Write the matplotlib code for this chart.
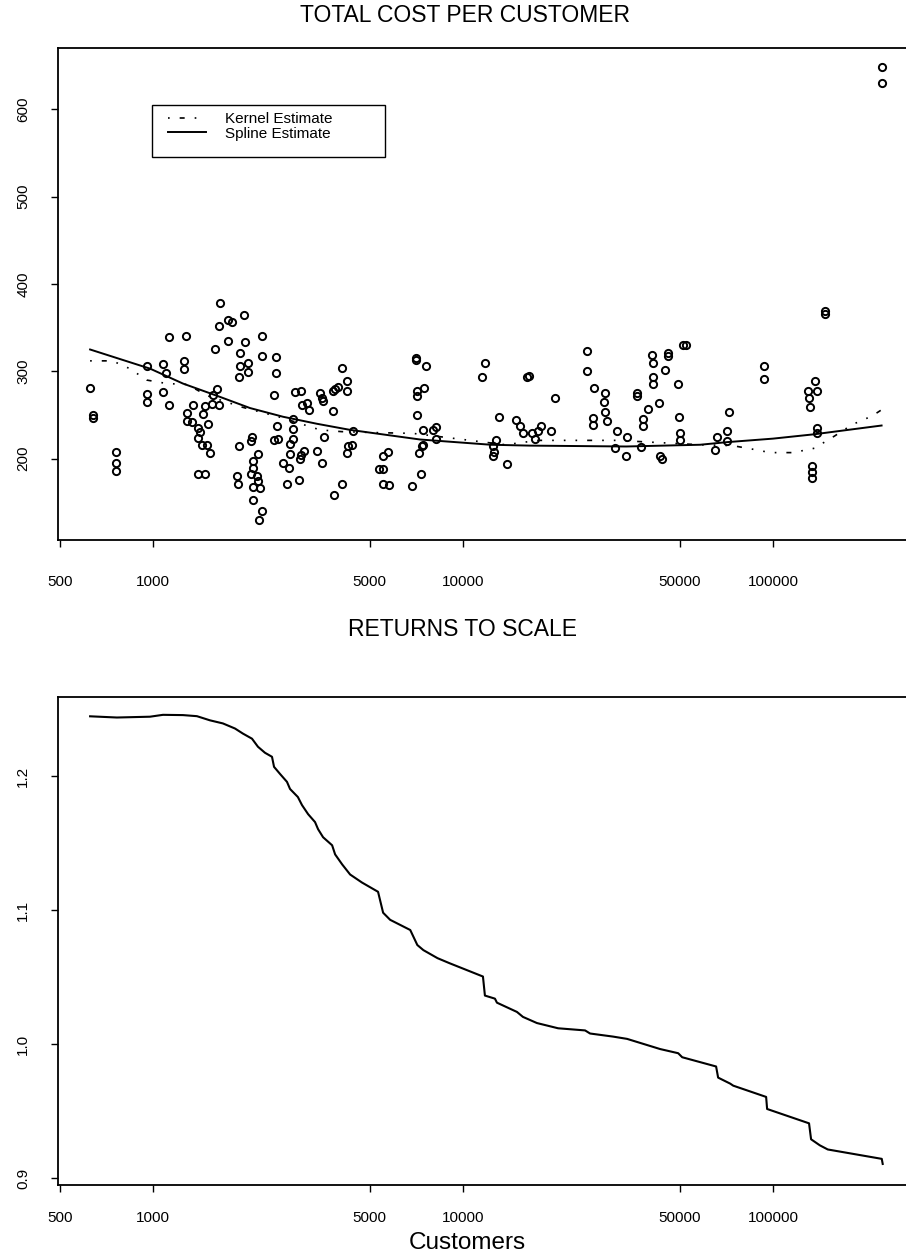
import matplotlib
matplotlib.use("Agg")
import matplotlib.pyplot as plt
from matplotlib.patches import Rectangle

plt.rcParams['font.family'] = ['Liberation Sans', 'DejaVu Sans']

# observed firms: number of customers and total cost per customer
customers = [627, 640, 640, 760, 760, 760, 955, 955, 955, 1080, 1100, 1080, 1130, 1130,
             1280, 1260, 1260, 1350, 1290, 1290, 1340, 1400, 1418, 1450, 1500, 1400, 1440,
             1490, 1527, 1400, 1470, 1550, 1610, 1630, 1560, 1470, 1590, 1630, 1640, 1740,
             1800, 1740, 1960, 1980, 1910, 1910, 1890, 2030, 2030, 2250, 2250, 2500, 2500,
             2460, 2520, 2460, 2540, 1890, 2090, 2070, 2180, 2110, 2100, 2070, 2160, 2110,
             2215, 2180, 1870, 1880, 2110, 2250, 2200, 2630, 2750, 2700, 2950, 2880, 3010,
             3030, 3150, 3180, 2820, 2820, 2820, 2770, 2770, 2980, 3010, 3060, 3380, 3500,
             3460, 3520, 3540, 3560, 3800, 3880, 3940, 3800, 3830, 4060, 4080, 4230, 4230,
             4230, 4270,
             4430, 4370, 5340, 5530, 5530, 5740, 5530, 5780, 6850, 7060, 7060, 7610, 7110,
             7110, 7480, 7110, 7430, 8000, 8180, 8180, 7430, 7380, 7230, 7300, 11740, 11540,
             13080, 12740, 12480, 12600, 12480, 13860, 16100, 16300, 14850, 15270, 15660,
             16700, 17100, 17460, 17850, 19280, 19740, 25200, 25200, 26500, 26300, 26300,
             28700, 28500, 28700, 29100, 31400, 30900, 33600, 33800,
             36300, 36300, 38100, 38100, 37500, 39500, 40700, 41100, 41100, 41100, 42900,
             43200, 43900, 44800, 45800, 45800, 49400, 49800, 50200, 50200, 51300, 52500,
             65000, 66000, 71200, 71200, 72300, 93600, 93600, 130000, 131000, 132000,
             137000, 139000, 139000, 139000, 134000, 134000, 134000, 147000, 147000,
             224000, 224000]
cost = [281, 250, 247, 208, 195, 186, 306, 274, 265, 308, 298, 276, 262, 339,
        341, 312, 303, 261, 252, 243, 242, 235, 231, 251, 240, 224, 216,
        216, 206, 183, 183, 263, 280, 262, 273, 260, 326, 352, 378, 359,
        356, 335, 364, 334, 321, 306, 293, 310, 299, 340, 317, 316, 298,
        273, 237, 222, 223, 215, 225, 220, 205, 197, 189, 182, 180, 168,
        167, 174, 180, 171, 153, 140, 130, 195, 189, 171, 176, 276, 277,
        261, 264, 256, 245, 234, 223, 217, 205, 200, 204, 209, 209, 195,
        275, 270, 266, 225, 278, 280, 282, 255, 159, 171, 304, 289, 278,
        207, 215,
        232, 216, 188, 188, 203, 208, 171, 170, 169, 315, 313, 306, 278,
        272, 281, 250, 233, 233, 236, 223, 216, 214, 207, 182, 310, 294,
        248, 221, 215, 208, 203, 194, 294, 295, 244, 238, 229,
        229, 223, 232, 237, 232, 269, 323, 300, 281, 247, 239,
        275, 265, 253, 243, 232, 212, 203, 225,
        275, 272, 246, 238, 213, 257, 319, 309, 293, 285, 264,
        203, 200, 301, 321, 318, 285, 248, 229, 221, 330, 330,
        210, 225, 232, 220, 253, 306, 291, 278, 269, 259,
        289, 278, 235, 230, 192, 185, 178, 369, 366,
        648, 630]

# fitted curves, top panel
spline_x = [627, 980, 1250, 1610, 2056, 2630, 3380, 4325, 7270, 12300, 16450, 33600,
            58200, 71200, 100000, 136000, 224000]
spline_y = [325, 303, 286, 272, 258, 248, 240, 233, 222, 216, 215, 214,
            216, 219, 223, 228, 238]
kernel_x = [627, 740, 843, 955, 1110, 1290, 1500, 1940, 2600, 3460, 4060, 5100, 6900,
            10000, 13700, 17460, 24000, 31400, 40150, 58230, 74000, 85700, 98000,
            116000, 136000, 158000, 180000, 209000, 224000]
kernel_y = [312, 312, 303, 290, 286, 285, 272, 259, 247, 233, 231, 230, 229,
            222, 216, 221, 221, 221, 219, 216, 215, 211, 207,
            207, 212, 226, 239, 249, 256]

# returns to scale, bottom panel
rts_x = [627, 765, 978, 1077, 1250, 1386, 1527, 1681, 1839, 1951, 2087, 2181, 2298,
         2421, 2458, 2570, 2706, 2768, 2934, 3025, 3166, 3333, 3409, 3538, 3784, 3869,
         4078, 4325, 4724, 5322, 5526, 5822, 6760, 7125, 7452, 8277, 9058, 11600,
         11770, 12680, 12870, 14930, 15610, 17320, 20270, 24770, 25700, 30480, 33820,
         43250, 49450, 50950, 65540, 66530, 72790, 74430, 95030, 95730, 130700, 132700,
         141600, 150200, 224300, 225900]
rts_y = [1.2446, 1.2437, 1.2443, 1.2457, 1.2455, 1.2447, 1.2416, 1.2393, 1.2355, 1.2317,
         1.2279, 1.2219, 1.2174, 1.2144, 1.2069, 1.2016, 1.1957, 1.1904, 1.1844, 1.1784,
         1.1716, 1.1657, 1.1604, 1.1544, 1.1484, 1.1416, 1.1341, 1.1266, 1.1206, 1.1137,
         1.0981, 1.0928, 1.0852, 1.0740, 1.0702, 1.0642, 1.0604, 1.0505, 1.0363, 1.0340,
         1.0310, 1.0241, 1.0204, 1.0158, 1.0119, 1.0103, 1.0080, 1.0057, 1.0040, 0.9964,
         0.9933, 0.9903, 0.9834, 0.9751, 0.9706, 0.9691, 0.9607, 0.9517, 0.9410, 0.9291,
         0.9246, 0.9215, 0.9145, 0.9107]

x_ticks = [500, 1000, 5000, 10000, 50000, 100000]
x_labels = ['500', '1000', '5000', '10000', '50000', '100000']
cost_ticks = [200, 300, 400, 500, 600]
rts_ticks = [0.9, 1.0, 1.1, 1.2]
rts_labels = ['0.9', '1.0', '1.1', '1.2']

W, H = 906, 1255
fig = plt.figure(figsize=(W / 100, H / 100), dpi=100)


def frame(ax, ylim, xpad):
    ax.set_xscale('log')
    ax.set_xlim(494, 285000)
    ax.set_ylim(*ylim)
    ax.set_xticks(x_ticks)
    ax.set_xticklabels(x_labels)
    ax.minorticks_off()
    ax.spines['right'].set_visible(False)
    for s in ax.spines.values():
        s.set_linewidth(1.3)
    ax.tick_params(axis='x', direction='out', length=5, width=1, labelsize=11, pad=xpad)
    ax.tick_params(axis='y', direction='out', length=5, width=1, labelsize=11, pad=15,
                   labelrotation=90)
    for lab in ax.get_yticklabels():
        lab.set_verticalalignment('center')


# top panel
ax1 = fig.add_axes([58 / W, 1 - 540 / H, (914 - 58) / W, 492 / H])
ax1.plot(customers, cost, 'o', mfc='none', mec='black', ms=5.2, mew=1.4)
k_line, = ax1.plot(kernel_x, kernel_y, color='black', lw=1.2,
                   linestyle=(0, (1, 6, 3, 6, 1, 6, 1, 6)), label='Kernel Estimate')
s_line, = ax1.plot(spline_x, spline_y, color='black', lw=1.4, label='Spline Estimate')
ax1.set_yticks(cost_ticks)
frame(ax1, (107, 670), 20)

ax1.legend(handles=[k_line, s_line], loc='upper left', frameon=False, fontsize=11,
           bbox_to_anchor=(168 / W, 1 - 112 / H), bbox_transform=fig.transFigure,
           borderpad=0, borderaxespad=0, handlelength=2.5, handletextpad=1.2,
           labelspacing=0.05)
fig.patches.append(Rectangle((152 / W, 1 - 157 / H), 233 / W, 52 / H, fill=False,
                             lw=1.0, edgecolor='black', transform=fig.transFigure))

fig.text(465 / W, 1 - 15 / H, 'TOTAL COST PER CUSTOMER', ha='center', va='center',
         fontsize=16.5)

# bottom panel
ax2 = fig.add_axes([58 / W, 1 - 1185 / H, (914 - 58) / W, 488 / H])
ax2.plot(rts_x, rts_y, color='black', lw=1.5)
ax2.set_yticks(rts_ticks)
ax2.set_yticklabels(rts_labels)
frame(ax2, (0.895, 1.259), 14)

fig.text(463 / W, 1 - 630 / H, 'RETURNS TO SCALE', ha='center', va='center',
         fontsize=16.5)
fig.text(467 / W, 1 - 1243 / H, 'Customers', ha='center', va='center', fontsize=17.5)

fig.savefig('out.png', dpi=100)
